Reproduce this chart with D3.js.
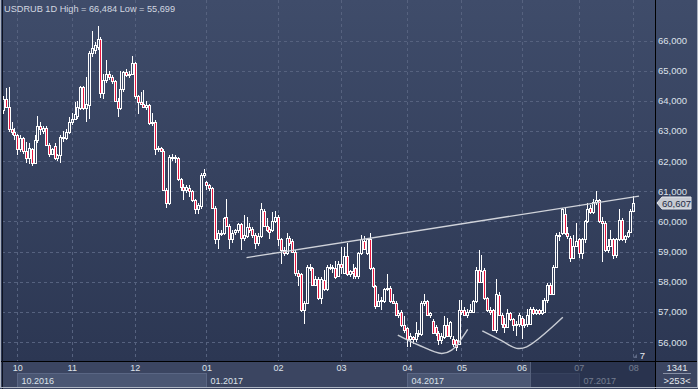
<!DOCTYPE html>
<html>
<head>
<meta charset="utf-8">
<script src="https://cdn.jsdelivr.net/npm/d3@7"></script>
<style>
html, body { margin: 0; padding: 0; background: #2e3955; }
svg { display: block; }
text { font-family: "Liberation Sans", Arial, sans-serif; }
</style>
</head>
<body>
<svg id="chart" width="698" height="389"></svg>
<script>
var symbol = "USDRUB 1D";

var monthLabels = ["10", "11", "12", "01", "02", "03", "04", "05", "06", "07", "08"];
var monthStarts = [5, 24, 46, 71, 96, 118, 141, 160, 181, 201, 220];
var quarterLabels = ["10.2016", "01.2017", "04.2017", "07.2017"];
var quarterStarts = [5, 71, 141, 201];
var priceTicks = [56, 57, 58, 59, 60, 61, 62, 63, 64, 65, 66];

// daily candles, sep 2016 .. 1 aug 2017
var opens = [63.70,64.05,63.80,63.05,62.95,62.85,62.40,62.75,62.35,62.10,62.40,61.95,62.70,63.15,63.00,63.10,62.55,62.25,62.50,62.10,
  62.20,62.80,62.75,62.95,63.30,63.40,63.50,63.75,64.45,63.75,63.85,65.60,65.70,65.80,66.05,64.25,64.70,64.90,64.80,64.65,
  64.00,63.75,64.40,64.95,64.85,64.90,65.25,64.15,63.95,63.90,63.80,63.85,63.25,63.30,62.40,62.42,62.35,61.05,60.60,62.15,
  62.10,62.10,61.40,61.15,61.05,61.10,61.00,60.70,60.40,60.50,61.55,61.30,61.20,61.10,60.45,59.40,59.60,59.60,60.15,59.85,
  59.40,59.65,59.70,59.90,59.45,59.50,59.80,59.75,59.55,59.30,59.50,60.35,59.85,59.75,59.70,60.00,60.15,59.40,59.05,58.95,
  59.45,59.35,59.00,58.30,58.25,57.05,57.30,58.50,58.45,57.90,58.10,57.45,58.05,57.75,58.50,58.45,58.45,58.20,58.60,58.30,
  58.85,58.25,58.35,58.45,58.20,58.95,59.35,58.95,59.40,58.45,57.85,57.20,57.40,57.35,57.75,57.80,57.35,57.30,56.90,57.00,
  56.55,56.45,56.10,56.15,56.10,56.30,56.25,57.30,57.35,56.90,56.70,56.50,56.30,56.05,56.15,56.55,56.20,56.10,56.05,55.95,
  57.05,57.05,56.90,57.00,57.00,57.35,58.40,58.00,58.40,57.45,57.05,57.05,56.40,57.55,56.90,56.60,56.50,56.95,56.75,56.55,
  56.60,56.80,56.55,56.60,56.60,57.10,56.95,57.05,56.95,57.00,57.40,57.90,57.60,58.50,59.55,59.60,60.25,59.60,59.45,58.80,
  59.20,59.40,58.95,59.40,60.00,60.45,60.30,60.65,60.70,60.00,59.95,59.05,59.20,59.40,58.90,59.40,60.05,59.40,59.50,59.65,
  60.35];
var highs = [64.15,64.42,64.45,63.30,63.10,62.90,62.85,62.80,62.65,62.60,62.45,62.85,63.50,63.30,63.15,63.15,62.60,62.45,62.60,62.25,
  62.85,63.00,63.05,63.45,63.60,63.95,64.00,64.50,64.50,64.80,65.65,66.30,65.95,66.484,66.10,64.90,65.35,65.00,64.85,64.70,
  64.10,65.00,65.00,65.05,65.00,65.50,65.30,64.20,64.30,64.35,64.00,63.90,63.60,63.35,62.50,62.48,62.40,61.10,62.20,62.22,
  62.20,62.15,61.45,61.25,61.20,61.20,61.05,60.75,60.60,61.60,61.75,61.35,61.25,61.15,60.50,59.70,59.70,60.15,60.75,59.90,
  59.70,59.75,59.95,59.95,60.20,60.15,59.95,59.80,59.60,59.60,60.60,60.40,60.10,59.80,60.30,60.35,60.20,59.45,59.15,59.60,
  59.50,59.40,59.05,58.40,58.30,57.35,58.55,58.60,58.50,58.20,58.15,58.15,58.40,58.55,58.60,58.55,58.70,58.70,59.15,59.15,
  59.30,58.40,58.60,58.50,59.00,59.55,59.50,59.45,59.60,58.50,57.90,57.60,57.50,57.80,58.25,57.85,57.60,57.35,57.05,57.05,
  56.85,56.50,56.30,56.20,56.65,56.40,57.35,57.60,57.40,57.00,56.75,56.55,56.35,56.30,56.85,56.80,56.70,56.20,56.10,57.40,
  57.40,57.15,57.10,57.25,57.40,58.50,59.05,58.90,58.45,57.50,57.15,57.10,58.10,57.65,56.95,56.80,57.10,57.00,56.80,56.70,
  56.95,56.85,56.75,57.10,57.15,57.15,57.10,57.10,57.40,57.45,57.95,57.95,58.55,59.60,59.65,60.45,60.45,59.80,59.50,59.55,
  59.95,59.45,59.45,60.05,60.60,60.55,60.75,61.00,60.75,60.15,60.00,59.40,59.70,59.45,59.45,60.40,60.10,59.55,59.70,60.40,
  60.85];
var lows = [63.55,63.75,62.95,62.85,62.70,62.20,62.30,62.25,61.95,61.90,61.85,61.90,62.60,62.85,62.90,62.50,62.15,62.20,62.05,62.00,
  61.95,62.65,62.70,62.90,63.20,63.35,63.40,63.70,63.70,63.30,63.40,65.45,65.55,65.70,64.10,64.05,64.60,64.70,64.55,63.95,
  63.45,63.70,64.30,64.80,64.75,64.85,64.05,63.55,63.85,63.75,63.70,63.20,63.15,62.20,62.30,62.30,61.00,60.45,60.55,62.00,
  61.95,61.35,61.00,60.70,60.95,60.80,60.65,60.25,60.25,60.40,61.45,61.05,61.00,60.40,59.25,59.10,59.50,59.55,59.80,59.10,
  59.30,59.55,59.60,59.05,59.35,59.45,59.60,59.45,59.10,59.20,59.45,59.80,59.65,59.40,59.65,59.95,59.20,58.60,58.85,58.90,
  59.20,58.95,58.20,57.85,57.00,56.60,57.25,58.35,57.85,57.85,57.40,57.25,57.70,57.70,58.40,58.30,58.10,58.15,58.25,58.25,
  58.20,58.15,58.10,58.10,58.10,58.90,59.05,58.90,58.40,57.80,57.10,57.15,57.05,57.30,57.70,57.30,57.25,56.85,56.80,56.50,
  56.30,55.85,55.85,55.95,56.00,56.15,56.20,57.20,56.85,56.80,56.25,56.20,55.90,55.95,56.10,56.15,56.10,55.85,55.699,55.90,
  56.90,56.85,56.80,56.95,56.95,57.30,57.95,57.95,57.40,57.00,56.90,56.35,56.30,56.85,56.45,56.30,56.45,56.70,56.35,56.20,
  56.50,56.10,56.45,56.50,56.55,56.90,56.90,56.90,56.90,56.95,57.30,57.55,57.55,58.45,59.35,59.55,59.55,59.40,58.65,58.75,
  59.15,58.80,58.75,59.30,59.95,60.25,60.25,60.55,59.95,58.65,59.00,58.95,59.15,58.75,58.80,59.35,59.35,59.30,59.45,59.60,
  60.30];
var closes = [64.05,63.80,63.05,62.95,62.85,62.40,62.75,62.35,62.10,62.45,61.95,62.70,63.15,63.05,63.10,62.55,62.25,62.40,62.10,62.20,
  62.80,62.75,62.95,63.30,63.40,63.55,63.80,64.45,63.75,63.90,65.60,65.75,65.85,66.05,64.25,64.70,64.90,64.80,64.65,64.00,
  63.75,64.40,64.95,64.85,64.90,65.25,64.15,63.95,63.90,63.80,63.85,63.25,63.30,62.40,62.42,62.35,61.05,60.60,62.15,62.10,
  62.15,61.40,61.15,61.05,61.15,61.00,60.70,60.40,60.55,61.55,61.60,61.20,61.10,60.45,59.40,59.60,59.62,60.10,59.85,59.40,
  59.60,59.70,59.90,59.45,59.55,59.80,59.70,59.55,59.30,59.50,60.40,59.85,59.70,59.65,60.00,60.15,59.40,59.05,58.95,59.45,
  59.30,59.00,58.30,58.20,57.05,57.30,58.50,58.45,57.90,58.10,57.45,58.10,57.75,58.50,58.45,58.48,58.15,58.60,58.50,58.85,
  58.25,58.35,58.30,58.20,58.95,59.40,59.10,59.40,58.45,57.85,57.20,57.35,57.35,57.75,57.80,57.35,57.30,56.90,56.95,56.55,
  56.40,56.10,56.20,56.10,56.30,56.25,57.30,57.35,56.90,56.95,56.30,56.30,56.05,56.20,56.55,56.20,56.65,55.95,55.85,57.05,
  57.00,56.90,57.00,57.05,57.35,58.40,58.00,58.35,57.45,57.05,57.00,56.40,57.60,56.90,56.60,56.50,56.95,56.75,56.55,56.60,
  56.90,56.55,56.60,56.90,57.10,56.95,57.05,56.95,57.05,57.40,57.90,57.60,58.50,59.55,59.50,60.40,59.60,59.50,58.80,59.20,
  59.35,58.95,59.40,60.00,60.40,60.30,60.65,60.70,60.00,59.95,59.05,59.20,59.40,58.90,59.40,60.05,59.40,59.50,59.65,60.35,
  60.607];

// hand drawn lines on the chart: [bar, price]
var neckline = [[85, 58.80], [222, 60.84]];
var leftBowl = [[137.8, 56.23], [145.0, 55.90], [153.1, 55.62], [156.6, 55.73], [162.2, 56.42]];
var rightBowl = [[167.3, 56.37], [173.5, 56.07], [179.3, 55.79], [182.8, 55.84], [195.4, 56.82]];

var barCount = "1341";
var barsShown = ">253<";
var fontSize = "7";

var W = 698, H = 389;
var plotRight = 655, plotBottom = 361;

var ru = d3.formatLocale({decimal: ",", thousands: " ", grouping: [3], currency: ["", ""]});
var fmt = ru.format(".3f");

var candles = opens.map(function(o, i) {
    return {i: i, o: o, h: highs[i], l: lows[i], c: closes[i]};
});

var x = d3.scaleLinear().domain([0, 220]).range([3, 633.3]);
var y = d3.scaleLinear().domain([56, 66]).range([342, 40.5]);

var svg = d3.select("#chart");
var defs = svg.append("defs");

var grad = defs.append("linearGradient").attr("id", "bg")
    .attr("x1", 0).attr("y1", 0).attr("x2", 0).attr("y2", 1);
grad.append("stop").attr("offset", "0%").attr("stop-color", "#3f4c6a");
grad.append("stop").attr("offset", "100%").attr("stop-color", "#2c3753");

defs.append("clipPath").attr("id", "plotClip")
    .append("rect").attr("x", 2).attr("y", 0).attr("width", plotRight - 2).attr("height", plotBottom);

// backgrounds
svg.append("rect").attr("x", 0).attr("y", 0).attr("width", W).attr("height", plotBottom)
    .attr("fill", "url(#bg)");
svg.append("rect").attr("x", 0).attr("y", plotBottom).attr("width", W).attr("height", H - plotBottom)
    .attr("fill", "#3b4561");

// grid
var grid = svg.append("g").attr("clip-path", "url(#plotClip)");
grid.selectAll(".hgrid").data(priceTicks).enter().append("line")
    .attr("x1", 2).attr("x2", plotRight)
    .attr("y1", function(d) { return Math.round(y(d)) + 0.5; })
    .attr("y2", function(d) { return Math.round(y(d)) + 0.5; })
    .attr("stroke", "#56627f").attr("stroke-dasharray", "3,3");
grid.selectAll(".vgrid").data(monthStarts).enter().append("line")
    .attr("y1", 0).attr("y2", plotBottom)
    .attr("x1", function(d) { return Math.round(x(d)) + 0.5; })
    .attr("x2", function(d) { return Math.round(x(d)) + 0.5; })
    .attr("stroke", "#56627f").attr("stroke-dasharray", "3,3");

// candles
var plot = svg.append("g").attr("clip-path", "url(#plotClip)");
var barX = function(d) { return Math.round(x(d.i)); };
var bodyTop = function(d) { return Math.round(y(Math.max(d.o, d.c))); };
var bodyBot = function(d) { return Math.max(bodyTop(d) + 1, Math.round(y(Math.min(d.o, d.c)))); };

plot.selectAll(".wickUp").data(candles).enter().append("line")
    .attr("x1", function(d) { return barX(d) + 0.5; })
    .attr("x2", function(d) { return barX(d) + 0.5; })
    .attr("y1", function(d) { return Math.round(y(d.h)); })
    .attr("y2", function(d) { return bodyTop(d); })
    .attr("stroke", "#ffffff");
plot.selectAll(".wickDn").data(candles).enter().append("line")
    .attr("x1", function(d) { return barX(d) + 0.5; })
    .attr("x2", function(d) { return barX(d) + 0.5; })
    .attr("y1", function(d) { return bodyBot(d); })
    .attr("y2", function(d) { return Math.round(y(d.l)); })
    .attr("stroke", "#ffffff");
plot.selectAll(".body").data(candles).enter().append("rect")
    .attr("x", function(d) { return barX(d) - 0.5; })
    .attr("y", function(d) { return bodyTop(d) + 0.5; })
    .attr("width", 2)
    .attr("height", function(d) { return bodyBot(d) - bodyTop(d); })
    .attr("fill", function(d) { return d.c < d.o ? "#e8173f" : "none"; })
    .attr("stroke", "#ffffff");

// drawn lines
var line = d3.line()
    .x(function(d) { return x(d[0]); })
    .y(function(d) { return y(d[1]); });
var curve = d3.line()
    .x(function(d) { return x(d[0]); })
    .y(function(d) { return y(d[1]); })
    .curve(d3.curveCatmullRom);
plot.append("path").attr("d", line(neckline))
    .attr("fill", "none").attr("stroke", "#d0d3da").attr("stroke-width", 1.4);
[leftBowl, rightBowl].forEach(function(b) {
    plot.append("path").attr("d", curve(b))
        .attr("fill", "none").attr("stroke", "#c8ccd4").attr("stroke-width", 1.4);
});

// title
svg.append("text").attr("x", 4).attr("y", 12)
    .attr("font-size", 9.2).attr("fill", "#d2d7e0")
    .text(symbol + " High = " + fmt(d3.max(highs)) + " Low = " + fmt(d3.min(lows)));

// price axis
var yAxis = svg.append("g").attr("transform", "translate(" + plotRight + ",0)")
    .call(d3.axisRight(y).tickValues(priceTicks).tickFormat(fmt).tickSize(0).tickPadding(3));
yAxis.select(".domain").remove();
yAxis.selectAll("text").attr("font-size", 9.5).attr("fill", "#dde2ea")
    .attr("font-family", "'Liberation Sans', Arial, sans-serif");

// last price tag
var last = closes[closes.length - 1];
var ly = Math.round(y(last));
svg.append("path")
    .attr("d", "M" + 657 + "," + ly + "L" + 662 + "," + (ly - 6) + "L" + 691 + "," + (ly - 6) +
        "L" + 691 + "," + (ly + 6) + "L" + 662 + "," + (ly + 6) + "Z")
    .attr("fill", "#c6cad2").attr("stroke", "#e4e7ec");
svg.append("text").attr("x", 662).attr("y", ly + 3.5)
    .attr("font-size", 9.5).attr("fill", "#1f2a44").text(fmt(last));

// bottom band: quarter boxes
var qx = function(i) { return Math.round(x(quarterStarts[i])) + 0.5; };
var qEnd = function(i) { return i + 1 < quarterStarts.length ? qx(i + 1) : plotRight; };
svg.selectAll(".qbox").data(quarterLabels).enter().append("rect")
    .attr("x", function(d, i) { return qx(i); })
    .attr("y", 373.5)
    .attr("width", function(d, i) { return qEnd(i) - qx(i); })
    .attr("height", 14)
    .attr("fill", function(d, i) { return i % 2 == 0 ? "#4a5673" : "none"; })
    .attr("stroke", function(d, i) { return i % 2 == 0 ? "#5a6684" : "none"; });
svg.selectAll(".qlab").data(quarterLabels).enter().append("text")
    .attr("x", function(d, i) { return qx(i) + 4; })
    .attr("y", 383.5)
    .attr("font-size", 9).attr("fill", "#dde2ea")
    .text(function(d) { return d; });

var xAxis = svg.append("g").attr("transform", "translate(0," + (plotBottom + 1) + ")")
    .call(d3.axisBottom(x).tickValues(monthStarts)
        .tickFormat(function(d, i) { return monthLabels[i]; }).tickSize(0).tickPadding(3));
xAxis.select(".domain").remove();
xAxis.selectAll("text").attr("font-size", 9).attr("fill", "#dde2ea")
    .attr("font-family", "'Liberation Sans', Arial, sans-serif");

// dark scroll region
svg.append("rect").attr("x", 530).attr("y", plotBottom + 1).attr("width", plotRight - 530).attr("height", H - plotBottom - 2)
    .attr("fill", "#1c2540").attr("opacity", 0.55);
svg.append("line").attr("x1", 530.5).attr("x2", 530.5).attr("y1", plotBottom + 1).attr("y2", H - 1)
    .attr("stroke", "#56617c");

// bottom right counters
svg.append("text").attr("x", 677).attr("y", 371).attr("text-anchor", "middle")
    .attr("font-size", 9.5).attr("fill", "#e4e8ee").text(barCount);
svg.append("line").attr("x1", 663).attr("x2", 691).attr("y1", 373.5).attr("y2", 373.5)
    .attr("stroke", "#8790a5");
svg.append("text").attr("x", 677).attr("y", 384).attr("text-anchor", "middle")
    .attr("font-size", 9.5).attr("fill", "#e4e8ee").text(barsShown);

// scale marker
svg.append("path").attr("d", "M633,358L637,354L637,358Z").attr("fill", "#5d6884");
svg.append("text").attr("x", 642.5).attr("y", 359).attr("text-anchor", "middle")
    .attr("font-size", 9.5).attr("fill", "#e8ecf2").text(fontSize);

// frame lines
svg.append("line").attr("x1", plotRight + 0.5).attr("x2", plotRight + 0.5).attr("y1", 0).attr("y2", H)
    .attr("stroke", "#000000");
svg.append("line").attr("x1", 0).attr("x2", W).attr("y1", plotBottom + 0.5).attr("y2", plotBottom + 0.5)
    .attr("stroke", "#000000");
svg.append("line").attr("x1", 2.5).attr("x2", 2.5).attr("y1", 0).attr("y2", H)
    .attr("stroke", "#0d1220");
svg.append("rect").attr("x", 0.5).attr("y", -1).attr("width", W - 1).attr("height", H - 0.5)
    .attr("fill", "none").attr("stroke", "#aeb5c3");
</script>
</body>
</html>
